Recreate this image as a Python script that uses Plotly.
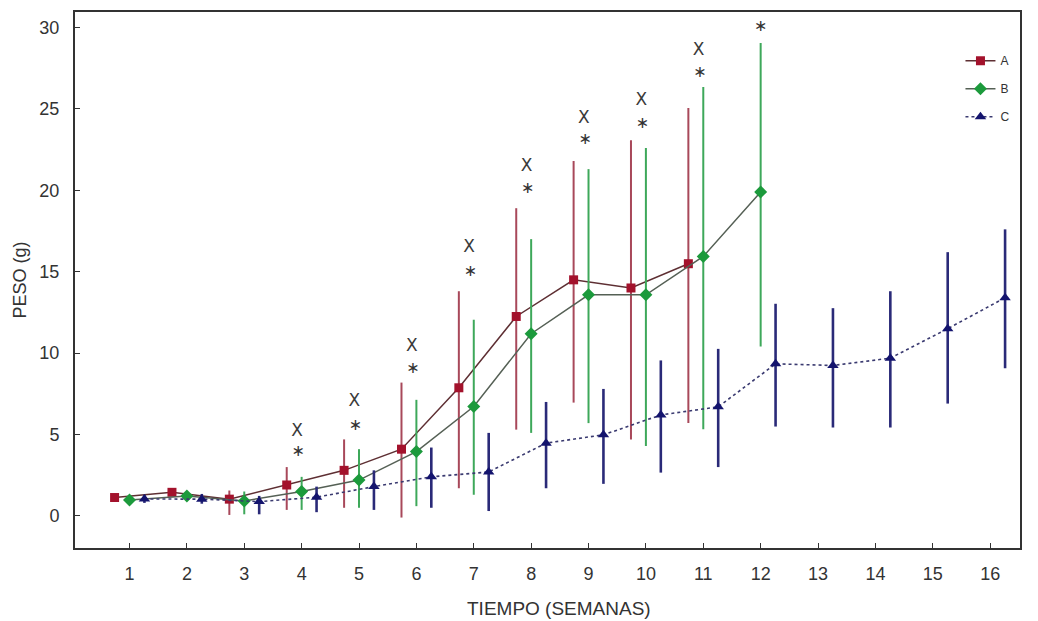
import plotly.graph_objects as go

# ---------------- data ----------------
weeks_A = [1, 2, 3, 4, 5, 6, 7, 8, 9, 10, 11]
mean_A = [1.13, 1.45, 1.03, 1.9, 2.8, 4.1, 7.87, 12.25, 14.5, 14.0, 15.49]
upper_A = [1.35, 1.65, 1.56, 3.0, 4.7, 8.19, 13.8, 18.9, 21.8, 23.07, 25.06]
lower_A = [0.9, 1.25, 0.06, 0.37, 0.5, -0.1, 1.7, 5.3, 6.96, 4.7, 5.7]

weeks_B = [1, 2, 3, 4, 5, 6, 7, 8, 9, 10, 11, 12]
mean_B = [0.98, 1.23, 0.92, 1.5, 2.2, 3.95, 6.72, 11.19, 13.58, 13.58, 15.94, 19.9]
upper_B = [1.2, 1.5, 1.5, 2.4, 4.1, 7.13, 12.05, 17.0, 21.3, 22.6, 26.35, 29.05]
lower_B = [0.8, 0.95, 0.1, 0.37, 0.5, 0.6, 1.3, 5.1, 5.7, 4.3, 5.33, 10.4]

weeks_C = [1, 2, 3, 4, 5, 6, 7, 8, 9, 10, 11, 12, 13, 14, 15, 16]
mean_C = [1.04, 1.03, 0.88, 1.15, 1.8, 2.4, 2.7, 4.47, 4.98, 6.2, 6.7, 9.34, 9.24, 9.69, 11.5, 13.4]
upper_C = [1.3, 1.35, 1.23, 1.8, 2.8, 4.2, 5.1, 7.0, 7.8, 9.55, 10.26, 13.03, 12.76, 13.8, 16.2, 17.6]
lower_C = [0.8, 0.75, 0.1, 0.23, 0.37, 0.5, 0.3, 1.7, 1.97, 2.66, 3.0, 5.49, 5.43, 5.43, 6.9, 9.07]

# significance marks
cross_weeks = [4, 5, 6, 7, 8, 9, 10, 11]
cross_y = [5.2, 7.0, 10.4, 16.5, 21.45, 24.4, 25.5, 28.6]
star_weeks = [4, 5, 6, 7, 8, 9, 10, 11, 12]
star_y = [3.9, 5.5, 9.0, 15.0, 20.1, 23.1, 24.1, 27.2, 30.05]

tick_vals_x = list(range(1, 17))
tick_vals_y = [0, 5, 10, 15, 20, 25, 30]

# ---------------- figure ----------------
OFF = 0.26
FONT = "Liberation Sans, Arial, sans-serif"


def err(mean, up, lo):
    return dict(type="data", symmetric=False,
                array=[u - m for u, m in zip(up, mean)],
                arrayminus=[m - l for m, l in zip(mean, lo)],
                thickness=2, width=0)


fig = go.Figure()

eA = err(mean_A, upper_A, lower_A)
eA["color"] = "#a8485a"
fig.add_trace(go.Scatter(
    x=[w - OFF for w in weeks_A], y=mean_A, name="A", mode="lines+markers",
    line=dict(color="#5e2f33", width=1.5),
    marker=dict(symbol="square", size=9, color="#a3122c"),
    error_y=eA, legendgroup="A"))

eB = err(mean_B, upper_B, lower_B)
eB["color"] = "#3ea85a"
fig.add_trace(go.Scatter(
    x=weeks_B, y=mean_B, name="B", mode="lines+markers",
    line=dict(color="#556055", width=1.5),
    marker=dict(symbol="diamond", size=10, color="#1c9a3c"),
    error_y=eB, legendgroup="B"))

eC = err(mean_C, upper_C, lower_C)
eC["color"] = "#2a2a78"
eC["thickness"] = 2.6
fig.add_trace(go.Scatter(
    x=[w + OFF for w in weeks_C], y=mean_C, name="C", mode="lines+markers",
    line=dict(color="#3a3a70", width=1.6, dash="dot"),
    marker=dict(symbol="triangle-up", size=10, color="#14146e"),
    error_y=eC, legendgroup="C"))

fig.add_trace(go.Scatter(
    x=[w - 0.08 for w in cross_weeks], y=cross_y, mode="text",
    text=["X"] * len(cross_weeks), textposition="middle center",
    textfont=dict(family="DejaVu Sans", size=17, color="#3a3a3a"),
    showlegend=False, hoverinfo="skip"))

fig.add_trace(go.Scatter(
    x=[w - 0.06 if w < 12 else w for w in star_weeks], y=star_y, mode="text",
    text=["∗"] * len(star_weeks), textposition="middle center",
    textfont=dict(family="DejaVu Sans", size=16, color="#333333"),
    showlegend=False, hoverinfo="skip"))

axis_common = dict(
    showgrid=False, zeroline=False, showline=True, mirror=True,
    linecolor="#333333", linewidth=2, ticks="inside", ticklen=5,
    tickcolor="#333333", tickfont=dict(family=FONT, size=18, color="#333333"),
    automargin=False,
)

fig.update_layout(
    width=1038, height=621,
    margin=dict(l=75, r=18, t=12, b=73),
    paper_bgcolor="white", plot_bgcolor="white",
    xaxis=dict(range=[0.05, 16.52], tickvals=tick_vals_x, ticklabelstandoff=8,
               **axis_common),
    yaxis=dict(range=[-1.97, 30.95], tickvals=tick_vals_y, ticklabelstandoff=10,
               title=dict(text="PESO (g)", standoff=8,
                          font=dict(family=FONT, size=18, color="#333333")),
               **axis_common),
    legend=dict(x=0.937, y=0.936, xanchor="left", yanchor="top",
                bgcolor="rgba(0,0,0,0)", tracegroupgap=9,
                font=dict(family=FONT, size=12, color="#333333")),
    showlegend=True,
    annotations=[dict(text="TIEMPO (SEMANAS)", xref="paper", yref="paper",
                      x=0.512, y=0, xanchor="center", yanchor="middle",
                      yshift=-60, showarrow=False,
                      font=dict(family=FONT, size=19, color="#333333"))],
)

fig.write_html("out.html", config={"displayModeBar": False},
               post_script="document.body.style.margin='0';")
